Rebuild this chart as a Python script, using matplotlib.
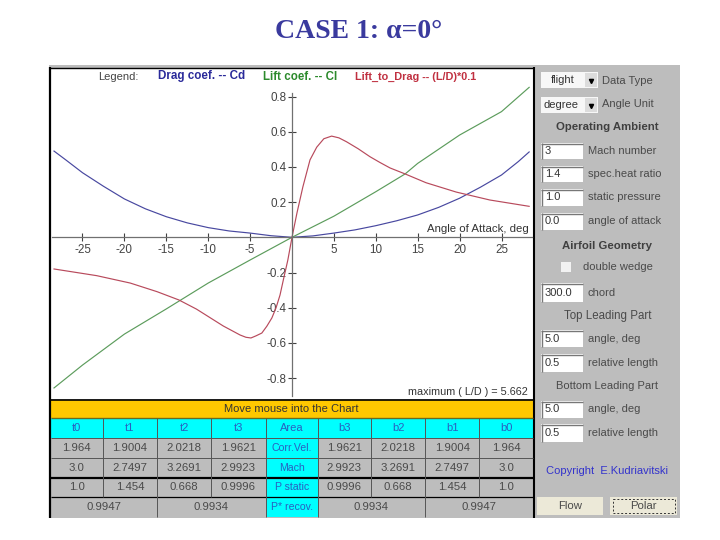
import matplotlib
matplotlib.use("Agg")
import matplotlib.pyplot as plt
from matplotlib.patches import Rectangle

plt.rcParams['font.family'] = ['Liberation Sans', 'DejaVu Sans']

# curve data (angle in deg, value)
cd_angle = [-28.4, -27, -25, -22.5, -20, -17.5, -15, -12.5, -10, -7.5, -5, -2.5, 0,
            2.5, 5, 7.5, 10, 12.5, 15, 17.5, 20, 22.5, 25, 27, 28.3]
cd_value = [0.49, 0.44, 0.367, 0.29, 0.218, 0.162, 0.117, 0.082, 0.055, 0.036, 0.024, 0.009, 0.0,
            0.008, 0.024, 0.042, 0.066, 0.094, 0.127, 0.17, 0.222, 0.285, 0.354, 0.43, 0.485]

cl_angle = [-28.4, -25, -20, -15, -10, -5, 0, 5, 10, 13.5, 15, 20, 25, 28.3]
cl_value = [-0.856, -0.726, -0.55, -0.407, -0.26, -0.129, 0.0, 0.12, 0.259, 0.36, 0.42, 0.581, 0.714, 0.852]

ld_angle = [-28.4, -23.3, -19.3, -16.1, -13.5, -11.4, -8.2, -6.2, -5.5, -4.9, -4.3, -3.6, -3, -2.4, -1.9, -1.43, -1, -0.5, 0,
            0.6, 1.3, 2.15, 2.95, 3.8, 4.73, 5.6, 6.5, 7.9, 9.3, 10.5, 11.7, 13.5, 16, 19.6, 23.6, 28.3]
ld_value = [-0.18, -0.218, -0.26, -0.309, -0.356, -0.408, -0.504, -0.555, -0.568, -0.572, -0.56, -0.544, -0.505, -0.458, -0.4, -0.328, -0.235, -0.13, 0.0,
            0.14, 0.287, 0.44, 0.512, 0.56, 0.575, 0.565, 0.543, 0.503, 0.458, 0.425, 0.394, 0.36, 0.31, 0.257, 0.212, 0.176]

x_ticks = [-25, -20, -15, -10, -5, 5, 10, 15, 20, 25]
y_ticks = [-0.8, -0.6, -0.4, -0.2, 0.2, 0.4, 0.6, 0.8]

# table text
col_names = ['t0', 't1', 't2', 't3', 'Area', 'b3', 'b2', 'b1', 'b0']
row_vel = ['1.964', '1.9004', '2.0218', '1.9621', 'Corr.Vel.', '1.9621', '2.0218', '1.9004', '1.964']
row_mach = ['3.0', '2.7497', '3.2691', '2.9923', 'Mach', '2.9923', '3.2691', '2.7497', '3.0']
row_p = ['1.0', '1.454', '0.668', '0.9996', 'P static', '0.9996', '0.668', '1.454', '1.0']
recov = ['0.9947', '0.9934', 'P* recov.', '0.9934', '0.9947']

input_values = ['3', '1.4', '1.0', '0.0', '300.0', '5.0', '0.5', '5.0', '0.5']
input_labels = ['Mach number', 'spec.heat ratio', 'static pressure', 'angle of attack', 'chord',
                'angle, deg', 'relative length', 'angle, deg', 'relative length']

fig = plt.figure(figsize=(7.2, 5.4), dpi=100, facecolor='white')

# whole figure axes in pixels for the window parts
ui = fig.add_axes([0, 0, 1, 1])
ui.set_xlim(0, 720)
ui.set_ylim(540, 0)
ui.axis('off')

GRAY = '#bdbdbd'
TXT = '#4a4a4a'


def box(x0, y0, x1, y1, fc, ec='none', lw=0, z=1, **kw):
    ui.add_patch(Rectangle((x0, y0), x1 - x0, y1 - y0, fc=fc, ec=ec, lw=lw, zorder=z, **kw))


def line(x0, y0, x1, y1, c='black', lw=1.0, z=4):
    ui.plot([x0, x1], [y0, y1], color=c, lw=lw, zorder=z, solid_capstyle='butt')


def label(x, y, s, size=8, c=TXT, ha='left', **kw):
    ui.text(x, y, s, fontsize=size, color=c, ha=ha, va='center', zorder=6, **kw)


ui.text(359, 31, 'CASE 1: \u03b1=0\u00b0', fontsize=20, fontweight='bold', color='#3a3a9e',
        family=['Liberation Serif', 'DejaVu Serif'], ha='center', va='center')

# panel and chart background
box(49, 65, 680, 518, GRAY)
box(51, 68, 533, 399, 'white', z=2)
line(50, 67, 50, 518, lw=1.6)
line(49, 67.5, 534, 67.5, lw=1.0)
line(533.5, 67, 533.5, 518, lw=1.5)

# table
cols = [51, 102.7, 157, 211, 265.7, 317.7, 371, 425.3, 479.3, 533]
box(51, 399.5, 533, 418, '#ffc800', z=2)
label(291, 409, 'Move mouse into the Chart', c='#333333', ha='center')
box(51, 418, 533, 438, '#00ffff', z=2)
box(265.7, 418, 317.7, 517, '#00ffff', z=2)
BLUE_TXT = '#2a5fc0'
for i in range(9):
    cx = (cols[i] + cols[i + 1]) / 2
    label(cx, 428, col_names[i], c=BLUE_TXT, ha='center')
    for rowtxt, yc in zip([row_vel, row_mach, row_p], [448, 468, 487.5]):
        label(cx, yc, rowtxt[i], c=BLUE_TXT if i == 4 else TXT, ha='center', size=7.6 if i == 4 else 8.2)
recov_x = [(cols[0] + cols[2]) / 2, (cols[2] + cols[4]) / 2, (cols[4] + cols[5]) / 2,
           (cols[5] + cols[7]) / 2, (cols[7] + cols[9]) / 2]
for xc, s in zip(recov_x, recov):
    label(xc, 507, s, c=BLUE_TXT if s.startswith('P') else TXT, ha='center', size=7.6 if s.startswith('P') else 8.2)

line(51, 399.5, 533, 399.5, lw=1.2)
line(51, 418, 533, 418, c='#6b6b20', lw=1.0)
line(51, 438, 533, 438, c='#555555', lw=0.7)
line(51, 458, 533, 458, c='#555555', lw=0.7)
line(51, 478, 533, 478, lw=1.6)
line(51, 497, 533, 497, lw=0.9)
# the last row has merged cells, only some lines go all the way down
for i, xc in enumerate(cols[1:-1]):
    y1 = 517 if i in (1, 3, 4, 6) else 497
    line(xc, 418, xc, y1, c='#555555', lw=0.7)

# right hand panel, drop downs
for y0, y1, s, ly, name in [(72, 88, 'flight', 80.5, 'Data Type'), (97, 113, 'degree', 104, 'Angle Unit')]:
    box(541, y0, 598, y1, '#f7f7f7', z=2)
    box(585, y0 + 1, 597, y1 - 1, '#dcdcdc', z=3)
    ui.plot([591], [(y0 + y1) / 2 + 1], marker='v', ms=3, color='black', zorder=5)
    label(563 if s == 'flight' else 543, (y0 + y1) / 2, s, c='#333333', ha='center' if s == 'flight' else 'left')
    label(602, ly, name)

label(607, 127.5, 'Operating Ambient', size=8.2, fontweight='bold', ha='center', c='#404040')
label(607, 246, 'Airfoil Geometry', size=8.2, fontweight='bold', ha='center', c='#404040')
label(608, 316, 'Top Leading Part', size=8.3, ha='center')
label(607, 386, 'Bottom Leading Part', ha='center')

# text fields
field_y = [(143, 159), (166, 182), (189, 206), (213, 230), (283, 302), (330, 347), (354, 372), (401, 418), (424, 442)]
for (y0, y1), val, name in zip(field_y, input_values, input_labels):
    box(541, y0, 583, y1, 'white', z=2)
    line(541, y0 + 0.5, 583, y0 + 0.5, c='#777777', lw=1.0)
    line(541.5, y0, 541.5, y1, c='#777777', lw=1.0)
    label(545, (y0 + y1) / 2, val, c='#333333')
    label(588, (y0 + y1) / 2, name)

box(561, 262, 571, 272, '#f2f2f2', z=2)
label(583, 266.5, 'double wedge')

label(607, 470.5, 'Copyright  E.Kudriavitski', c='#3333cc', ha='center')

# buttons
box(537, 497, 603, 515, '#ece9d8', z=2)
box(610, 497, 677, 515, '#ece9d8', z=2)
box(612.5, 499, 674.5, 513, 'none', ec='#333333', lw=0.7, z=3, ls=(0, (2, 2)))
label(570, 506, 'Flow', size=8.2, ha='center')
label(643.5, 506, 'Polar', size=8.2, ha='center')

# legend line of the chart
label(98, 76.5, 'Legend:', c='#444444')
label(158, 76.5, 'Drag coef. -- Cd', size=8.4, c='#2a2a9a', fontweight='bold')
label(263, 76.5, 'Lift coef. -- Cl', size=8.3, c='#2c8a2c', fontweight='bold')
label(355, 76.5, 'Lift_to_Drag -- (L/D)*0.1', size=7.8, c='#c03040', fontweight='bold')
label(529, 229, 'Angle of Attack, deg', c='#333333', ha='right', size=8.2)
label(528, 392, 'maximum ( L/D ) = 5.662', c='#333333', ha='right', size=7.8)

# the chart itself, 8.38 px per degree and 176 px per unit around (292, 237.3)
ax = fig.add_axes([51 / 720, 1 - 399 / 540, 482 / 720, 331 / 540], facecolor='none')
ax.set_xlim((51 - 292) / 8.38, (533 - 292) / 8.38)
ax.set_ylim((237.3 - 399) / 176, (237.3 - 68) / 176)
ax.set_zorder(5)
for s in ['top', 'right']:
    ax.spines[s].set_visible(False)
ax.spines['left'].set_position(('data', 0))
ax.spines['bottom'].set_position(('data', 0))
ax.spines['left'].set_color('#707070')
ax.spines['bottom'].set_color('#707070')
ax.spines['left'].set_linewidth(0.9)
ax.spines['bottom'].set_linewidth(0.9)
ax.spines['left'].set_bounds(-0.9, 0.82)
ax.spines['bottom'].set_bounds(-28.6, 28.6)

ax.plot(cd_angle, cd_value, color='#4848a0', lw=0.85)
ax.plot(cl_angle, cl_value, color='#5c9c5c', lw=0.85)
ax.plot(ld_angle, ld_value, color='#b84a5c', lw=0.85)

ax.set_xticks(x_ticks)
ax.set_xticklabels([str(v) for v in x_ticks])
ax.set_yticks(y_ticks)
ax.set_yticklabels(['%.1f' % v for v in y_ticks])
ax.tick_params(axis='x', direction='inout', length=6, width=0.8, color='#404040', labelsize=8.4,
               labelcolor='#444444', pad=2)
ax.tick_params(axis='y', direction='inout', length=6, width=0.8, color='#404040', labelsize=8.4,
               labelcolor='#444444', pad=1)

fig.savefig('out.png', dpi=100)
